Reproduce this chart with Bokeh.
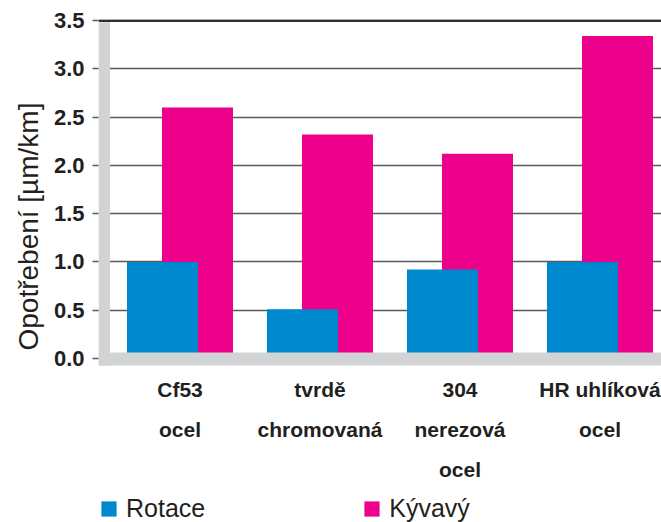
from bokeh.plotting import figure
from bokeh.models import Range1d, FixedTicker, Legend, LegendItem, Span, Title
from bokeh.core.properties import value
from bokeh.embed import file_html
from bokeh.resources import INLINE

# ---- data ----
categories = ["Cf53\nocel", "tvrdě\nchromovaná", "304\nnerezová\nocel", "HR uhlíková\nocel"]
rotace = [1.00, 0.51, 0.92, 1.00]
kyvavy = [2.60, 2.32, 2.12, 3.34]
series_names = ["Rotace", "Kývavý"]
y_ticks = [0.0, 0.5, 1.0, 1.5, 2.0, 2.5, 3.0, 3.5]
y_tick_labels = ["0.0", "0.5", "1.0", "1.5", "2.0", "2.5", "3.0", "3.5"]
y_title = "Opotřebení [µm/km]"

# ---- style ----
BLUE = "#0088cf"
PINK = "#ec008c"
WALL = "#d1d3d4"
GRID = "#5a5a5a"
TEXT = "#231f20"
FONT = "Liberation Sans"

W, H = 661, 522
LEFT, TOP = 98, 19               # frame offsets inside the figure
PXC = 140.0                      # pixels per category
PXY = 96.5                       # pixels per unit of wear
X0, ZERO = 179.5, 357.9          # pixel position of 1st group centre / value 0

def xv(px):
    return (px - X0) / PXC

def yv(py):
    return (ZERO - py) / PXY

x_start, x_end = xv(LEFT), xv(W)
y_top, y_bottom = yv(TOP), yv(H)

p = figure(width=W, height=H, output_backend="svg", toolbar_location=None,
           x_range=Range1d(x_start, x_end), y_range=Range1d(y_bottom, y_top),
           x_axis_location=None, min_border_left=LEFT, min_border_top=TOP,
           min_border_right=0, min_border_bottom=0)
p.outline_line_color = None
p.background_fill_color = "white"
p.border_fill_color = "white"
p.xgrid.visible = False

# y axis
ax = p.yaxis[0]
ax.ticker = FixedTicker(ticks=y_ticks)
ax.major_label_overrides = {t: l for t, l in zip(y_ticks, y_tick_labels)}
ax.axis_line_color = None
ax.minor_tick_line_color = None
ax.major_tick_in = 0
ax.major_tick_out = 6
ax.major_tick_line_color = GRID
ax.major_tick_line_width = 1.3
ax.major_label_standoff = 8
ax.major_label_text_font = FONT
ax.major_label_text_font_style = "bold"
ax.major_label_text_font_size = "22px"
ax.major_label_text_color = TEXT

p.ygrid.ticker = FixedTicker(ticks=[t for t in y_ticks if 0 < t < y_ticks[-1]])
p.ygrid.grid_line_color = GRID
p.ygrid.grid_line_width = 1.3

n = len(categories)
xs = list(range(n))
bw = 71 / PXC
off = 17.5 / PXC

r_pink = p.vbar(x=[x + off for x in xs], top=kyvavy, bottom=0, width=bw,
                fill_color=PINK, line_color=None)
r_blue = p.vbar(x=[x - off for x in xs], top=rotace, bottom=0, width=bw,
                fill_color=BLUE, line_color=None)

# 3D-like floor and wall
floor_top, floor_bot = yv(352), yv(365)
p.quad(left=[x_start], right=[x_end], bottom=[floor_bot], top=[floor_top],
       fill_color=WALL, line_color=None)
p.quad(left=[x_start], right=[xv(109.5)], bottom=[floor_bot], top=[y_ticks[-1] - 1.5 / PXY],
       fill_color=WALL, line_color=None)

p.add_layout(Span(location=y_ticks[-1], dimension="width", line_color="#2e2e2e", line_width=2.6))

# category labels
p.text(x=xs, y=[yv(377)] * n, text=categories, text_align="center", text_baseline="top",
       text_font=value(FONT), text_font_style="bold", text_font_size="21px",
       text_color=TEXT, text_line_height=1.74)

# y title (left side panel, starting near the value 0)
title_fs = 28
title_len = 8.86 * title_fs
p.add_layout(Title(text=y_title, align="left", offset=(H - (226 + title_len / 2)),
                   text_font=FONT, text_font_size=f"{title_fs}px", text_font_style="normal",
                   text_color=TEXT, standoff=14), "left")

legend = Legend(items=[LegendItem(label=series_names[0], renderers=[r_blue]),
                       LegendItem(label=series_names[1], renderers=[r_pink])],
                orientation="horizontal", location=(1, -1), glyph_width=19, glyph_height=19,
                label_text_font=FONT, label_text_font_size="25px", label_text_color=TEXT,
                label_standoff=8, spacing=157, padding=0, margin=0,
                border_line_color=None, background_fill_alpha=0)
p.add_layout(legend)

open("out.html", "w").write(file_html(p, INLINE))
